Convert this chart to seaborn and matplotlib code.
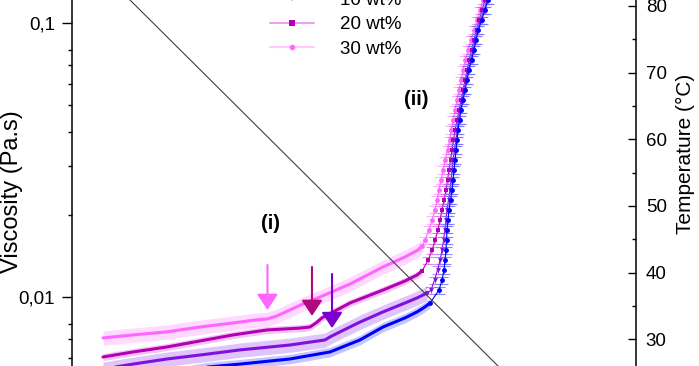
import numpy as np
import pandas as pd
import matplotlib
matplotlib.use("Agg")
import matplotlib.pyplot as plt
import seaborn as sns
from matplotlib.lines import Line2D
from matplotlib.ticker import FixedLocator, FuncFormatter, MultipleLocator, NullFormatter

# time (min) and viscosity (Pa.s), before gelation (dense band) and during gelation (marked points)
t_0_pre = [5.07, 12.08, 20.59, 25.51, 32.97, 38.94, 41.92, 43.41, 46.84, 50.13, 51.92, 53.11, 53.86]
eta_0_pre = [0.00477, 0.00510, 0.00555, 0.00569, 0.00594, 0.00630, 0.00674, 0.00697, 0.00777,
             0.00839, 0.00882, 0.00920, 0.00951]
t_0_gel = [55.20, 55.65, 55.95, 56.09, 56.24, 56.32, 56.39, 56.54, 56.69, 56.92, 57.14, 57.29, 57.44,
           57.59, 57.74, 57.89, 58.03, 58.26, 58.48, 58.78, 59.08, 59.38, 59.68, 60.05, 60.42, 60.72,
           61.09, 61.54, 62.06, 62.51, 63.56]
eta_0_gel = [0.0106, 0.01153, 0.01255, 0.0136, 0.0148, 0.0161, 0.0176, 0.0191, 0.0208, 0.0226, 0.0246,
             0.0267, 0.0291, 0.0316, 0.0344, 0.0374, 0.0407, 0.0443, 0.0482, 0.0524, 0.0569, 0.0619,
             0.0674, 0.0733, 0.0797, 0.0867, 0.0943, 0.1025, 0.1115, 0.1213, 0.1435]

t_10_pre = [5.07, 9.55, 14.62, 19.54, 25.51, 32.97, 38.19, 38.94, 40.43, 43.41, 46.84, 50.13, 51.92, 53.41]
eta_10_pre = [0.00546, 0.00569, 0.00594, 0.00614, 0.00641, 0.00668, 0.00697, 0.00715, 0.00746,
              0.00810, 0.00882, 0.00951, 0.00992, 0.01034]
t_10_gel = [54.01, 54.53, 54.98, 55.35, 55.65, 55.87, 56.09, 56.24, 56.39, 56.62, 56.84, 56.99, 57.14,
            57.29, 57.51, 57.74, 57.89, 58.11, 58.33, 58.63, 58.93, 59.23, 59.53, 59.90, 60.27, 60.57,
            60.94, 61.39, 61.91, 62.36, 63.41]
eta_10_gel = [0.0106, 0.01153, 0.01255, 0.0136, 0.0148, 0.0161, 0.0176, 0.0191, 0.0208, 0.0226, 0.0246,
              0.0267, 0.0291, 0.0316, 0.0344, 0.0374, 0.0407, 0.0443, 0.0482, 0.0524, 0.0569, 0.0619,
              0.0674, 0.0733, 0.0797, 0.0867, 0.0943, 0.1025, 0.1115, 0.1213, 0.1435]

t_20_pre = [5.07, 9.55, 14.62, 19.54, 24.47, 29.54, 34.46, 35.95, 36.85, 37.74, 39.68, 41.92, 46.84,
            50.13, 51.92, 52.66]
eta_20_pre = [0.00604, 0.00630, 0.00657, 0.00691, 0.00727, 0.00758, 0.00770, 0.00777, 0.00804,
              0.00839, 0.00889, 0.00951, 0.0106, 0.01144, 0.01203, 0.01244]
t_20_gel = [53.56, 54.16, 54.60, 55.05, 55.35, 55.65, 55.95, 56.24, 56.47, 56.69, 56.92, 57.14, 57.36,
            57.59, 57.89, 58.18, 58.48, 58.78, 59.08, 59.38, 59.68, 60.05, 60.42, 60.80, 61.17, 61.62,
            62.06, 63.11]
eta_20_gel = [0.0136, 0.0148, 0.0161, 0.0176, 0.0191, 0.0208, 0.0226, 0.0246, 0.0267, 0.0291, 0.0316,
              0.0344, 0.0374, 0.0407, 0.0443, 0.0482, 0.0524, 0.0569, 0.0619, 0.0674, 0.0733, 0.0797,
              0.0867, 0.0943, 0.1025, 0.1115, 0.1213, 0.1435]

t_30_pre = [5.07, 9.55, 14.62, 19.54, 24.47, 27.75, 29.54, 31.03, 32.97, 35.21, 37.45, 41.92, 46.84,
            50.13, 52.07, 52.66]
eta_30_pre = [0.00709, 0.00727, 0.00746, 0.00777, 0.00804, 0.00824, 0.00831, 0.00853, 0.00897,
              0.00951, 0.01000, 0.01115, 0.01287, 0.01400, 0.01484, 0.01535]
t_30_gel = [53.11, 53.71, 54.16, 54.60, 54.90, 55.20, 55.50, 55.80, 56.09, 56.47, 56.77, 57.06, 57.29,
            57.59, 57.89, 58.18, 58.48, 58.78, 59.15, 59.53, 59.97, 60.42, 60.87, 61.32, 61.76, 62.81]
eta_30_gel = [0.0161, 0.0176, 0.0191, 0.0208, 0.0226, 0.0246, 0.0267, 0.0291, 0.0316, 0.0344, 0.0374,
              0.0407, 0.0443, 0.0482, 0.0524, 0.0569, 0.0619, 0.0674, 0.0733, 0.0797, 0.0867, 0.0943,
              0.1025, 0.1115, 0.1213, 0.1435]

# temperature ramp
t_ramp = [0, 70]
temp_ramp = [90, 20]

labels = ["0 wt%", "10 wt%", "20 wt%", "30 wt%"]
rel_err = [0.04, 0.06, 0.03, 0.06]

# onset arrows (time, viscosity at top, viscosity at tip)
arrow_t = [29.61, 36.25, 39.24]
arrow_top = [0.01309, 0.01287, 0.01213]
arrow_tip = [0.00897, 0.00853, 0.0077]

sns.set_theme(style="ticks")
plt.rcParams["font.family"] = ["Liberation Sans", "DejaVu Sans"]
plt.rcParams["text.color"] = "black"
plt.rcParams["axes.labelcolor"] = "black"
plt.rcParams["xtick.color"] = "black"
plt.rcParams["ytick.color"] = "black"

colors = ["#0000FF", "#8010E0", "#B400B4", "#FF66FF"]
lights = ["#7070FF", "#B070F0", "#E070E0", "#FFA0FF"]
legend_lines = ["#0000FF", "#B070F0", "#F0A0F0", "#FFC8FF"]
markers = ["o", "v", "s", "o"]
arrow_colors = ["#FF66FF", "#B0087F", "#7A00D0"]

fig = plt.figure(figsize=(6.99, 3.66), dpi=100)
ax = fig.add_axes([0.1030, -0.1109, 0.8069, 1.1978])
ax.set_yscale("log")
ax2 = ax.twinx()


def draw_series(t_pre, eta_pre, t_gel, eta_gel, color, light, marker, err):
    pre = pd.DataFrame({"t": t_pre, "eta": eta_pre})
    gel = pd.DataFrame({"t": [t_pre[-1]] + t_gel, "eta": [eta_pre[-1]] + eta_gel})
    e = np.array(eta_pre)
    ax.fill_between(t_pre, e * (1 - err), e * (1 + err), color=light, alpha=0.4, lw=0)
    sns.lineplot(data=pre, x="t", y="eta", ax=ax, color=color, lw=2.2, sort=False, estimator=None)
    eg = np.array(eta_gel)
    ax.errorbar(t_gel, eta_gel, yerr=eg * 0.03, fmt="none", ecolor=light, elinewidth=0.8,
                capsize=4.3, capthick=0.8, alpha=0.8)
    sns.lineplot(data=gel, x="t", y="eta", ax=ax, color=color, lw=0.8, marker=marker,
                 markersize=3.5, markeredgewidth=0, sort=False, estimator=None)


draw_series(t_30_pre, eta_30_pre, t_30_gel, eta_30_gel, colors[3], lights[3], markers[3], rel_err[3])
draw_series(t_20_pre, eta_20_pre, t_20_gel, eta_20_gel, colors[2], lights[2], markers[2], rel_err[2])
draw_series(t_10_pre, eta_10_pre, t_10_gel, eta_10_gel, colors[1], lights[1], markers[1], rel_err[1])
draw_series(t_0_pre, eta_0_pre, t_0_gel, eta_0_gel, colors[0], lights[0], markers[0], rel_err[0])

sns.lineplot(x=t_ramp, y=temp_ramp, ax=ax2, color="#404040", lw=0.8)

for x, top, tip, c in zip(arrow_t, arrow_top, arrow_tip, arrow_colors):
    ax.annotate("", xy=(x, tip), xytext=(x, top),
                arrowprops=dict(arrowstyle="-|>,head_length=0.6,head_width=0.4", color=c, lw=1.5,
                                mutation_scale=16, shrinkA=0, shrinkB=0))

ax.text(29.99, 0.01862, "(i)", fontsize=14.5, fontweight="bold", ha="center", va="center")
ax.text(51.77, 0.0524, "(ii)", fontsize=14.5, fontweight="bold", ha="center", va="center")

ax.set_xlim(0.4476, 84.59)
ax.set_ylim(10 ** -2.4, 10 ** -0.8)
ax2.set_ylim(19.91, 85.67)

ax.yaxis.set_major_locator(FixedLocator([0.001, 0.01, 0.1, 1]))
ax.yaxis.set_major_formatter(FuncFormatter(lambda v, p: ("%g" % v).replace(".", ",")))
minor = [k * 10.0 ** e for e in (-3, -2, -1) for k in range(2, 9)]
ax.yaxis.set_minor_locator(FixedLocator(minor))
ax.yaxis.set_minor_formatter(NullFormatter())
ax.tick_params(axis="y", which="major", direction="out", length=7.2, width=1, labelsize=13.5, pad=5)
ax.tick_params(axis="y", which="minor", direction="out", length=3.2, width=1)
ax.tick_params(axis="x", bottom=False, labelbottom=False)

ax2.yaxis.set_major_locator(MultipleLocator(10))
ax2.yaxis.set_minor_locator(MultipleLocator(5))
ax2.tick_params(axis="y", which="major", direction="in", length=5.8, width=1, labelsize=13.5, pad=7)
ax2.tick_params(axis="y", which="minor", direction="in", length=3, width=1)

for s in ["top", "bottom", "right"]:
    ax.spines[s].set_visible(False)
for s in ["top", "bottom", "left"]:
    ax2.spines[s].set_visible(False)
ax.spines["left"].set_color("black")
ax2.spines["right"].set_color("black")
ax.spines["left"].set_linewidth(1.1)
ax2.spines["right"].set_linewidth(1.1)

ax.set_xlabel("")
ax.set_ylabel("Viscosity (Pa.s)", fontsize=17)
ax.yaxis.set_label_coords(-0.0869, 0.4906)
ax2.set_ylabel("Temperature (°C)", fontsize=15)
ax2.yaxis.set_label_coords(1.0709, 0.5773)

handles = [Line2D([], [], color=legend_lines[i], lw=1.5, marker=markers[i], markersize=4,
                  markerfacecolor=colors[i], markeredgewidth=0) for i in range(4)]
ax2.legend(handles, labels, loc="lower left", bbox_to_anchor=(270 / 699, 1 - 58 / 366),
           bbox_transform=fig.transFigure, frameon=False, borderpad=0, borderaxespad=0,
           handlelength=2.35, handletextpad=1.4, labelspacing=0.4, fontsize=13.5)

fig.savefig("out.png", dpi=100)
